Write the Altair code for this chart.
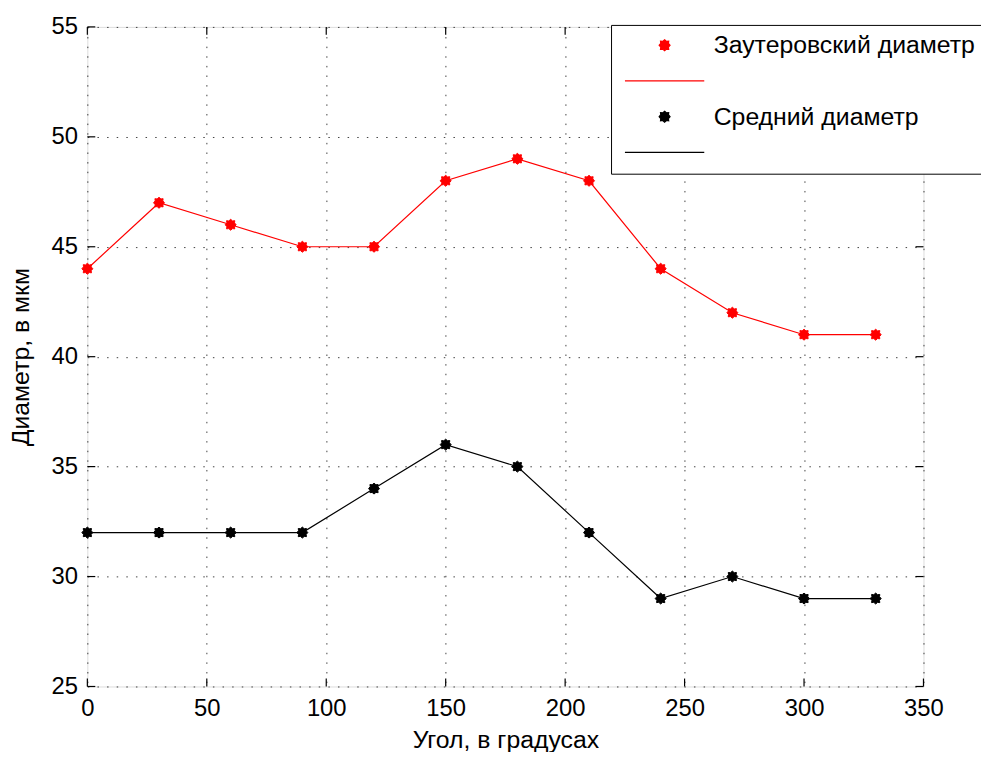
import altair as alt
import pandas as pd

angles = [0, 30, 60, 90, 120, 150, 180, 210, 240, 270, 300, 330]
sauter = [44, 47, 46, 45, 45, 48, 49, 48, 44, 42, 41, 41]
mean_d = [32, 32, 32, 32, 34, 36, 35, 32, 29, 30, 29, 29]

name_s = "Заутеровский диаметр"
name_m = "Средний диаметр"
x_ticks = [0, 50, 100, 150, 200, 250, 300, 350]
y_ticks = [25, 30, 35, 40, 45, 50, 55]

rows = []
for a, v in zip(angles, sauter):
    rows.append({"angle": a, "d": v, "entry": name_s, "line_entry": "s_line"})
for a, v in zip(angles, mean_d):
    rows.append({"angle": a, "d": v, "entry": name_m, "line_entry": "m_line"})
df = pd.DataFrame(rows)

W, H = 843, 665
FONT = "Liberation Sans"
FS = 25      # titles / legend
FST = 24     # tick labels

STAR = ("M0,-1L0.35,-0.7L0.75,-0.75L0.7,-0.35L1,0L0.7,0.35L0.75,0.75L0.35,0.7"
        "L0,1L-0.35,0.7L-0.75,0.75L-0.7,0.35L-1,0L-0.7,-0.35L-0.75,-0.75L-0.35,-0.7Z")
LINE = "M-7.27,0H7.27"
MSIZE = 121

dom = [name_s, "s_line", name_m, "m_line"]
cols = ["#ff0000", "#ff0000", "#000000", "#000000"]
shapes = [STAR, LINE, STAR, LINE]

xs = alt.Scale(domain=[0, 350], nice=False)
ys = alt.Scale(domain=[25, 55], nice=False)

legend = alt.Legend(
    title=None, orient="none", legendX=528, legendY=-2,
    strokeColor="#000", fillColor="#fff", padding=8,
    labelFont=FONT, labelFontSize=FS, labelColor="#000", labelLimit=0,
    labelOffset=37, symbolOffset=33.5, symbolSize=MSIZE, symbolStrokeWidth=1.2,
    rowPadding=10, gridAlign="all",
    labelExpr="indexof(datum.label, '_line') >= 0 ? '' : datum.label + '\u00a0\u00a0\u00a0'",
)

x_enc = alt.X("angle:Q", scale=xs, axis=alt.Axis(
    values=x_ticks, title="Угол, в градусах", domain=False, ticks=False,
    labelFont=FONT, labelFontSize=FST, labelColor="#000", labelPadding=10,
    titleFont=FONT, titleFontSize=FS, titleFontWeight="normal", titleColor="#000", titlePadding=8,
    grid=True, gridDash=[1.5, 8.2], gridColor="#000", gridOpacity=0.75, labelFlush=False))
y_enc = alt.Y("d:Q", scale=ys, axis=alt.Axis(
    values=y_ticks, title="Диаметр, в мкм", domain=False, ticks=False,
    labelFont=FONT, labelFontSize=FST, labelColor="#000", labelPadding=10,
    titleFont=FONT, titleFontSize=FS, titleFontWeight="normal", titleColor="#000", titlePadding=18,
    grid=True, gridDash=[1.5, 8.2], gridColor="#000", gridOpacity=0.75, labelFlush=False))

lines = alt.Chart(df).mark_line(strokeWidth=1.2).encode(
    x=x_enc, y=y_enc,
    stroke=alt.Stroke("line_entry:N", scale=alt.Scale(domain=dom, range=cols), legend=legend),
)
points = alt.Chart(df).mark_point(filled=True, size=MSIZE, opacity=1, strokeWidth=1).encode(
    x=alt.X("angle:Q", scale=xs), y=alt.Y("d:Q", scale=ys),
    fill=alt.Fill("entry:N", scale=alt.Scale(domain=dom, range=cols), legend=legend),
    stroke=alt.Stroke("entry:N", scale=alt.Scale(domain=dom, range=cols), legend=legend),
    shape=alt.Shape("entry:N", scale=alt.Scale(domain=dom, range=shapes), legend=legend),
)

xt = pd.DataFrame({"t": x_ticks})
yt = pd.DataFrame({"t": y_ticks})
tick_x_bottom = alt.Chart(xt).mark_rule(color="#000", strokeWidth=1.2).encode(
    x=alt.X("t:Q", scale=xs), y=alt.value(H), y2=alt.value(H - 8))
tick_x_top = alt.Chart(xt).mark_rule(color="#000", strokeWidth=1.2).encode(
    x=alt.X("t:Q", scale=xs), y=alt.value(0), y2=alt.value(8))
tick_y_left = alt.Chart(yt).mark_rule(color="#000", strokeWidth=1.2).encode(
    y=alt.Y("t:Q", scale=ys), x=alt.value(0), x2=alt.value(8))
tick_y_right = alt.Chart(yt).mark_rule(color="#000", strokeWidth=1.2).encode(
    y=alt.Y("t:Q", scale=ys), x=alt.value(W), x2=alt.value(W - 8))

chart = alt.layer(tick_x_bottom, tick_x_top, tick_y_left, tick_y_right, lines, points).properties(
    width=W, height=H,
    autosize=alt.AutoSizeParams(type="none"),
    padding={"left": 80, "top": 16, "right": 58, "bottom": 63},
).configure_view(stroke="#000", strokeWidth=1.5).configure(background="#fff")

chart.save("out.html", embed_options={"renderer": "svg", "actions": False})
